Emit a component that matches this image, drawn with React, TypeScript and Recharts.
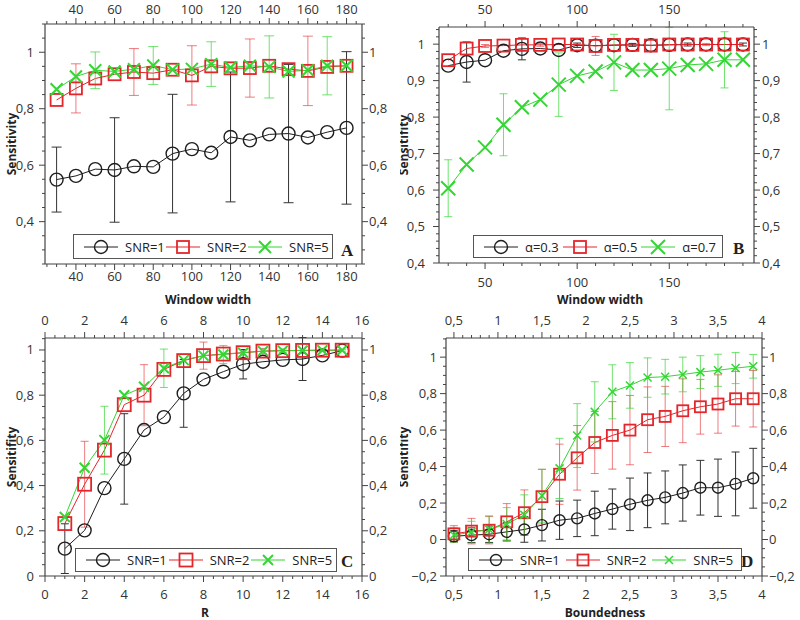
import { LineChart, Line, XAxis, YAxis, ErrorBar, Legend } from 'recharts';

// ---- panel A: sensitivity vs window width, by SNR ----
const A_X = [30, 40, 50, 60, 70, 80, 90, 100, 110, 120, 130, 140, 150, 160, 170, 180];
const A_SNR1 = [0.549, 0.562, 0.586, 0.583, 0.596, 0.594, 0.641, 0.657, 0.644, 0.7, 0.688, 0.709, 0.712, 0.698, 0.717, 0.732];
const A_SNR1_ERR = [0.115, null, null, 0.185, null, null, 0.21, null, null, 0.23, null, null, 0.245, null, null, 0.27];
const A_SNR2 = [0.831, 0.872, 0.907, 0.922, 0.93, 0.926, 0.938, 0.918, 0.95, 0.943, 0.944, 0.952, 0.94, 0.934, 0.948, 0.952];
const A_SNR2_ERR = [null, 0.087, null, null, 0.083, null, null, 0.105, null, null, 0.103, null, null, 0.123, null, null];
const A_SNR5 = [0.869, 0.914, 0.936, 0.932, 0.94, 0.953, 0.938, 0.941, 0.958, 0.946, 0.952, 0.948, 0.932, 0.936, 0.952, 0.952];
const A_SNR5_ERR = [null, null, 0.065, null, null, 0.067, null, null, 0.079, null, null, 0.11, null, null, 0.103, null];

// ---- panel B: sensitivity vs window width, by alpha ----
const B_X = [30, 40, 50, 60, 70, 80, 90, 100, 110, 120, 130, 140, 150, 160, 170, 180, 190];
const B_A03 = [0.941, 0.951, 0.956, 0.982, 0.987, 0.988, 0.984, 0.997, 0.996, 0.997, 0.998, 0.997, 0.998, 0.999, 0.999, 0.999, 0.999];
const B_A03_ERR = [null, 0.055, null, null, 0.03, null, null, 0.006, null, null, 0.004, null, null, 0.004, null, null, 0.004];
const B_A05 = [0.956, 0.988, 0.995, 0.996, 0.998, 0.998, 0.999, 0.999, 0.995, 0.998, 0.998, 0.996, 0.999, 0.999, 0.999, 0.999, 0.999];
const B_A05_ERR = [null, null, 0.004, null, null, 0.004, null, null, 0.026, null, null, 0.015, null, null, 0.003, null, null];
const B_A07 = [0.605, 0.67, 0.717, 0.779, 0.827, 0.848, 0.889, 0.913, 0.925, 0.95, 0.929, 0.929, 0.933, 0.943, 0.946, 0.957, 0.957];
const B_A07_ERR = [0.078, null, null, 0.085, null, null, 0.087, null, null, 0.077, null, null, 0.113, null, null, 0.077, null];

// ---- panel C: sensitivity vs R ----
const C_X = [1, 2, 3, 4, 5, 6, 7, 8, 9, 10, 11, 12, 13, 14, 15];
const C_SNR1 = [0.121, 0.202, 0.389, 0.518, 0.646, 0.703, 0.808, 0.87, 0.904, 0.937, 0.948, 0.956, 0.96, 0.976, 0.997];
const C_SNR1_ERR = [0.11, null, null, 0.2, null, null, 0.15, null, null, 0.065, null, null, 0.095, null, null];
const C_SNR2 = [0.232, 0.406, 0.557, 0.758, 0.8, 0.914, 0.953, 0.975, 0.982, 0.988, 0.995, 0.997, 0.998, 0.999, 0.999];
const C_SNR2_ERR = [null, 0.19, null, null, 0.135, null, null, 0.06, null, null, 0.012, null, null, 0.006, null];
const C_SNR5 = [0.261, 0.479, 0.601, 0.8, 0.837, 0.919, 0.955, 0.975, 0.98, 0.988, 0.995, 0.997, 0.998, 0.999, 0.999];
const C_SNR5_ERR = [null, null, 0.15, null, null, 0.085, null, null, 0.04, null, null, 0.008, null, null, 0.004];

// ---- panel D: sensitivity vs boundedness ----
const D_X = [0.5, 0.7, 0.9, 1.1, 1.3, 1.5, 1.7, 1.9, 2.1, 2.3, 2.5, 2.7, 2.9, 3.1, 3.3, 3.5, 3.7, 3.9];
const D_SNR1 = [0.018, 0.024, 0.029, 0.042, 0.055, 0.079, 0.106, 0.116, 0.143, 0.167, 0.193, 0.215, 0.231, 0.255, 0.284, 0.284, 0.305, 0.336];
const D_SNR1_ERR = [0.03, 0.04, 0.045, 0.05, 0.07, 0.087, 0.105, 0.1, 0.122, 0.11, 0.144, 0.15, 0.145, 0.154, 0.15, 0.157, 0.175, 0.164];
const D_SNR2 = [0.031, 0.046, 0.051, 0.097, 0.147, 0.235, 0.358, 0.448, 0.532, 0.571, 0.6, 0.657, 0.675, 0.706, 0.728, 0.743, 0.772, 0.772];
const D_SNR2_ERR = [0.045, 0.07, 0.075, 0.1, 0.125, 0.15, 0.165, 0.177, 0.17, 0.185, 0.19, 0.18, 0.165, 0.175, 0.15, 0.16, 0.15, 0.155];
const D_SNR5 = [0.025, 0.04, 0.055, 0.085, 0.135, 0.24, 0.39, 0.57, 0.7, 0.81, 0.845, 0.888, 0.893, 0.905, 0.918, 0.928, 0.94, 0.95];
const D_SNR5_ERR = [0.04, 0.06, 0.075, 0.09, 0.11, 0.145, 0.165, 0.175, 0.165, 0.148, 0.125, 0.108, 0.095, 0.095, 0.09, 0.088, 0.085, 0.065];

const SNR_NAMES = ['SNR=1', 'SNR=2', 'SNR=5'];
const ALPHA_NAMES = ['\u03b1=0.3', '\u03b1=0.5', '\u03b1=0.7'];

const FONT = '"Open Sans", "DejaVu Sans", sans-serif';
const BLACK = '#1e1e1e';
const RED = '#e3262b';
const GREEN = '#33d633';

type Shape = 'circle' | 'square' | 'x';

function rows(xs: number[], cols: Record<string, (number | null)[]>) {
  return xs.map((x, i) => {
    const r: any = { x };
    for (const k in cols) r[k] = cols[k][i];
    return r;
  });
}

function steps(a: number, b: number, step: number) {
  const out: number[] = [];
  const n = Math.round((b - a) / step);
  for (let i = 0; i <= n; i++) out.push(Math.round((a + i * step) * 1e6) / 1e6);
  return out;
}

function fmt(v: number) {
  const r = Math.round(v * 1000) / 1000;
  return String(r).replace('.', ',').replace('-', '\u2212');
}

function Marker({ cx, cy, shape, size, color, sw }: any) {
  if (cx == null || cy == null) return null;
  const h = size / 2;
  if (shape === 'circle') return <circle cx={cx} cy={cy} r={h} fill="none" stroke={color} strokeWidth={sw} />;
  if (shape === 'square')
    return <rect x={cx - h} y={cy - h} width={size} height={size} fill="none" stroke={color} strokeWidth={sw} />;
  return (
    <path
      d={`M${cx - h},${cy - h}L${cx + h},${cy + h}M${cx - h},${cy + h}L${cx + h},${cy - h}`}
      stroke={color}
      strokeWidth={sw}
      fill="none"
    />
  );
}

// ticks: every listed value gets a short mark, multiples of `major` get a long mark and a label
function makeTick(side: 'top' | 'bottom' | 'left' | 'right', major: number, off: number) {
  return (props: any) => {
    const { x, y, payload } = props;
    const v = payload.value;
    const isMajor = Math.abs(v / major - Math.round(v / major)) < 1e-6;
    const len = isMajor ? 6 : 3;
    const txt = { fontFamily: FONT, fontSize: 13, fill: '#333' };
    let l: number[];
    let t: any = null;
    if (side === 'bottom') {
      l = [x, y, x, y + len];
      if (isMajor) t = <text x={x} y={y + off} textAnchor="middle" {...txt}>{fmt(v)}</text>;
    } else if (side === 'top') {
      l = [x, y, x, y - len];
      if (isMajor) t = <text x={x} y={y + off} textAnchor="middle" {...txt}>{fmt(v)}</text>;
    } else if (side === 'left') {
      l = [x, y, x - len, y];
      if (isMajor) t = <text x={x + off} y={y + 4.5} textAnchor="end" {...txt}>{fmt(v)}</text>;
    } else {
      l = [x, y, x + len, y];
      if (isMajor) t = <text x={x + off} y={y + 4.5} textAnchor="start" {...txt}>{fmt(v)}</text>;
    }
    return (
      <g>
        <line x1={l[0]} y1={l[1]} x2={l[2]} y2={l[3]} stroke="#444" strokeWidth={1} />
        {t}
      </g>
    );
  };
}

type SeriesCfg = { name: string; key: string; color: string; errColor: string; shape: Shape; size: number; sw: number };

type PanelCfg = {
  left: number;
  top: number;
  width: number;
  height: number;
  plot: { l: number; r: number; t: number; b: number };
  data: any[];
  series: SeriesCfg[];
  xDomain: [number, number];
  xTicks: number[];
  xMajor: number;
  yDomain: [number, number];
  yTicks: number[];
  yMajor: number;
  lab: { top: number; bottom: number; left: number; right: number };
  xTitle: string;
  xTitlePos: [number, number];
  yTitle: string;
  yTitlePos: [number, number];
  legend: { x: number; y: number; w: number; h: number; letter: string; lx: number; ly: number };
  capW: number;
};

function LegendBox({ cfg }: { cfg: PanelCfg }) {
  const lg = cfg.legend;
  return (
    <div style={{ position: 'relative', width: lg.w, height: lg.h }}>
      <div
        style={{
          position: 'absolute',
          left: 0,
          top: 0,
          width: lg.w,
          height: lg.h,
          boxSizing: 'border-box',
          border: '1.5px solid #555',
          background: '#fff',
          display: 'flex',
          alignItems: 'center',
          paddingLeft: 10,
          fontFamily: FONT,
          fontSize: 13,
          color: '#222',
        }}
      >
        {cfg.series.map((s) => (
          <div key={s.key} style={{ display: 'flex', alignItems: 'center', width: (lg.w - 14) / 3 }}>
            <svg width={34} height={18} style={{ display: 'block' }}>
              <line x1={0} y1={9} x2={34} y2={9} stroke={s.color} strokeWidth={1} />
              <Marker cx={17} cy={9} shape={s.shape} size={s.size} color={s.color} sw={s.sw} />
            </svg>
            <span style={{ marginLeft: 7 }}>{s.name}</span>
          </div>
        ))}
      </div>
      <span
        style={{
          position: 'absolute',
          left: lg.lx - lg.x - 6,
          top: lg.ly - lg.y - 11,
          fontFamily: '"Liberation Serif", "DejaVu Serif", serif',
          fontWeight: 'bold',
          fontSize: 17,
          lineHeight: '20px',
          color: '#222',
        }}
      >
        {lg.letter}
      </span>
    </div>
  );
}

function Panel({ cfg }: { cfg: PanelCfg }) {
  const { plot } = cfg;
  const axisLine = { stroke: '#444', strokeWidth: 1.2 };
  const titleStyle = { fontFamily: FONT, fontSize: 12, fontWeight: 'bold' as const, fill: '#222' };
  const [xtx, xty] = cfg.xTitlePos;
  const [ytx, yty] = cfg.yTitlePos;
  return (
    <div style={{ position: 'absolute', left: cfg.left, top: cfg.top, width: cfg.width, height: cfg.height }}>
      <LineChart width={cfg.width} height={cfg.height} data={cfg.data} margin={{ top: 0, right: 0, bottom: 0, left: 0 }}>
        <XAxis
          xAxisId="top"
          orientation="top"
          dataKey="x"
          type="number"
          domain={cfg.xDomain}
          allowDataOverflow
          ticks={cfg.xTicks}
          interval={0}
          height={plot.t}
          tickSize={0}
          tickMargin={0}
          tickLine={false}
          axisLine={axisLine}
          tick={makeTick('top', cfg.xMajor, cfg.lab.top)}
        />
        <XAxis
          orientation="bottom"
          dataKey="x"
          type="number"
          domain={cfg.xDomain}
          allowDataOverflow
          ticks={cfg.xTicks}
          interval={0}
          height={cfg.height - plot.b}
          tickSize={0}
          tickMargin={0}
          tickLine={false}
          axisLine={axisLine}
          tick={makeTick('bottom', cfg.xMajor, cfg.lab.bottom)}
          label={{
            content: () => (
              <text x={xtx} y={xty} textAnchor="middle" {...titleStyle}>
                {cfg.xTitle}
              </text>
            ),
          }}
        />
        <YAxis
          orientation="left"
          type="number"
          domain={cfg.yDomain}
          allowDataOverflow
          ticks={cfg.yTicks}
          interval={0}
          width={plot.l}
          tickSize={0}
          tickMargin={0}
          tickLine={false}
          axisLine={axisLine}
          tick={makeTick('left', cfg.yMajor, cfg.lab.left)}
          label={{
            content: () => (
              <text x={ytx} y={yty} transform={`rotate(-90 ${ytx} ${yty})`} textAnchor="middle" {...titleStyle}>
                {cfg.yTitle}
              </text>
            ),
          }}
        />
        <YAxis
          yAxisId="right"
          orientation="right"
          type="number"
          domain={cfg.yDomain}
          allowDataOverflow
          ticks={cfg.yTicks}
          interval={0}
          width={cfg.width - plot.r}
          tickSize={0}
          tickMargin={0}
          tickLine={false}
          axisLine={axisLine}
          tick={makeTick('right', cfg.yMajor, cfg.lab.right)}
        />
        {cfg.series.map((s) => (
          <Line
            key={s.key}
            dataKey={s.key}
            name={s.name}
            type="linear"
            stroke={s.color}
            strokeWidth={1}
            isAnimationActive={false}
            activeDot={false}
            dot={(p: any) => (
              <Marker key={`${s.key}-${p.index}`} cx={p.cx} cy={p.cy} shape={s.shape} size={s.size} color={s.color} sw={s.sw} />
            )}
          >
            <ErrorBar dataKey={`${s.key}e`} width={cfg.capW} stroke={s.errColor} strokeWidth={1} direction="y" />
          </Line>
        ))}
        <Legend
          verticalAlign="middle"
          layout="horizontal"
          content={() => <LegendBox cfg={cfg} />}
          wrapperStyle={{ left: cfg.legend.x, top: cfg.legend.y, width: cfg.legend.w, height: cfg.legend.h, bottom: 'auto' }}
        />
      </LineChart>
    </div>
  );
}

function seriesSet(names: string[], sizes: number[], xSw: number): SeriesCfg[] {
  return [
    { name: names[0], key: 's1', color: BLACK, errColor: '#333', shape: 'circle', size: sizes[0], sw: 1.4 },
    { name: names[1], key: 's2', color: RED, errColor: 'rgba(227,38,43,0.6)', shape: 'square', size: sizes[1], sw: 1.8 },
    { name: names[2], key: 's3', color: GREEN, errColor: 'rgba(51,214,51,0.7)', shape: 'x', size: sizes[2], sw: xSw },
  ];
}

const panels: PanelCfg[] = [
  {
    left: 0,
    top: 0,
    width: 400,
    height: 310,
    plot: { l: 45, r: 362, t: 24, b: 264 },
    data: rows(A_X, { s1: A_SNR1, s1e: A_SNR1_ERR, s2: A_SNR2, s2e: A_SNR2_ERR, s3: A_SNR5, s3e: A_SNR5_ERR }),
    series: seriesSet(SNR_NAMES, [13, 12, 12], 2),
    xDomain: [24, 188],
    xTicks: steps(25, 185, 5),
    xMajor: 20,
    yDomain: [0.25, 1.1],
    yTicks: steps(0.25, 1.1, 0.05),
    yMajor: 0.2,
    lab: { top: -10.5, bottom: 17, left: -11, right: 7 },
    xTitle: 'Window width',
    xTitlePos: [208, 304],
    yTitle: 'Sensitivity',
    yTitlePos: [16, 144],
    legend: { x: 73, y: 234, w: 260, h: 25, letter: 'A', lx: 347, ly: 252 },
    capW: 5,
  },
  {
    left: 400,
    top: 0,
    width: 400,
    height: 310,
    plot: { l: 39, r: 354, t: 27, b: 263 },
    data: rows(B_X, { s1: B_A03, s1e: B_A03_ERR, s2: B_A05, s2e: B_A05_ERR, s3: B_A07, s3e: B_A07_ERR }),
    series: seriesSet(ALPHA_NAMES, [13, 12, 14], 2),
    xDomain: [25, 196],
    xTicks: steps(30, 190, 10),
    xMajor: 50,
    yDomain: [0.4, 1.047],
    yTicks: steps(0.4, 1.04, 0.02),
    yMajor: 0.1,
    lab: { top: -13, bottom: 24, left: -14, right: 8 },
    xTitle: 'Window width',
    xTitlePos: [200, 304],
    yTitle: 'Sensitifity',
    yTitlePos: [8, 145],
    legend: { x: 73, y: 235, w: 250, h: 23, letter: 'B', lx: 339, ly: 250 },
    capW: 4,
  },
  {
    left: 0,
    top: 305,
    width: 400,
    height: 315,
    plot: { l: 45, r: 362, t: 33, b: 271 },
    data: rows(C_X, { s1: C_SNR1, s1e: C_SNR1_ERR, s2: C_SNR2, s2e: C_SNR2_ERR, s3: C_SNR5, s3e: C_SNR5_ERR }),
    series: seriesSet(SNR_NAMES, [13, 13, 10], 2),
    xDomain: [0, 16],
    xTicks: steps(0, 16, 0.5),
    xMajor: 2,
    yDomain: [0, 1.053],
    yTicks: steps(0, 1.05, 0.05),
    yMajor: 0.2,
    lab: { top: -13, bottom: 23, left: -11, right: 7 },
    xTitle: 'R',
    xTitlePos: [205, 312],
    yTitle: 'Sensitifity',
    yTitlePos: [16, 152],
    legend: { x: 75, y: 243, w: 262, h: 24, letter: 'C', lx: 347, ly: 258 },
    capW: 4,
  },
  {
    left: 400,
    top: 305,
    width: 400,
    height: 315,
    plot: { l: 46, r: 362, t: 33, b: 271 },
    data: rows(D_X, { s1: D_SNR1, s1e: D_SNR1_ERR, s2: D_SNR2, s2e: D_SNR2_ERR, s3: D_SNR5, s3e: D_SNR5_ERR }),
    series: seriesSet(SNR_NAMES, [11, 11, 8], 1.5),
    xDomain: [0.41, 4],
    xTicks: steps(0.5, 4, 0.1),
    xMajor: 0.5,
    yDomain: [-0.2, 1.105],
    yTicks: steps(-0.2, 1.1, 0.05),
    yMajor: 0.2,
    lab: { top: -13, bottom: 23, left: -9, right: 7 },
    xTitle: 'Boundedness',
    xTitlePos: [205, 312],
    yTitle: 'Sensitifity',
    yTitlePos: [8, 152],
    legend: { x: 68, y: 243, w: 274, h: 23, letter: 'D', lx: 347, ly: 258 },
    capW: 4,
  },
];

export default function App() {
  return (
    <div style={{ position: 'absolute', left: 0, top: 0, width: 800, height: 620, background: '#fff', overflow: 'hidden' }}>
      {panels.map((p, i) => (
        <Panel key={i} cfg={p} />
      ))}
    </div>
  );
}
